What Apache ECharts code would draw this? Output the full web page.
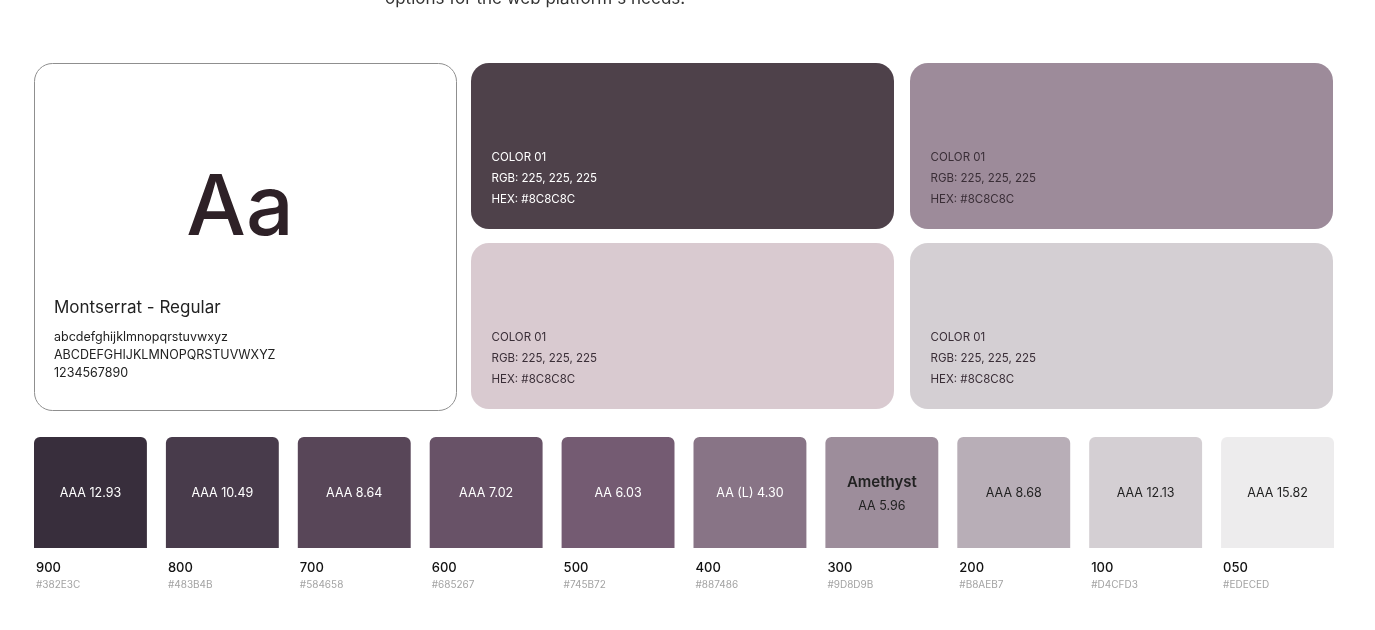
<!DOCTYPE html>
<html>
<head>
<meta charset="utf-8">
<script src="https://cdn.jsdelivr.net/npm/echarts@6.0.0/dist/echarts.min.js"></script>
<style>
  html, body { margin: 0; padding: 0; background: #fff; }
  #main { width: 1375px; height: 630px; }
</style>
</head>
<body>
<div id="main"></div>
<script>
// swatch scale
const shadeNames = ['900', '800', '700', '600', '500', '400', '300', '200', '100', '050'];
const shadeHex = ['#382E3C', '#483B4B', '#584658', '#685267', '#745B72', '#887486', '#9D8D9B', '#B8AEB7', '#D4CFD3', '#EDECED'];
const shadeContrast = ['AAA 12.93', 'AAA 10.49', 'AAA 8.64', 'AAA 7.02', 'AA 6.03', 'AA (L) 4.30', 'AA 5.96', 'AAA 8.68', 'AAA 12.13', 'AAA 15.82'];
const shadeTitle = ['', '', '', '', '', '', 'Amethyst', '', '', ''];

// the four big cards (col, row)
const cardCol = [0, 1, 0, 1];
const cardRow = [0, 0, 1, 1];
const cardFill = ['#4E414A', '#9D8B9A', '#D9CAD0', '#D4CFD3'];
const cardLines = ['COLOR 01', 'RGB: 225, 225, 225', 'HEX: #8C8C8C'];

const font = 'Inter, "Noto Sans", sans-serif';

const chart = echarts.init(document.getElementById('main'));

const option = {
    backgroundColor: '#ffffff',
    animation: false,
    grid: [
        { left: 24.5, width: 1319, top: 437, height: 111 },
        { left: 463, width: 878, top: 56, height: 360 }
    ],
    xAxis: [
        { gridIndex: 0, type: 'category', data: shadeNames, show: false },
        { gridIndex: 1, type: 'category', data: [0, 1], show: false }
    ],
    yAxis: [
        { gridIndex: 0, type: 'value', min: 0, max: 1, show: false },
        { gridIndex: 1, type: 'category', data: [0, 1], inverse: true, show: false }
    ],
    graphic: [
        {
            type: 'text', left: 385, top: -10,
            style: { text: "options for the web platform's needs.", font: '17px ' + font, fill: '#333' }
        },
        {
            type: 'rect', shape: { x: 34.5, y: 63.5, width: 422, height: 347, r: 18 },
            style: { fill: '#fff', stroke: '#8f8f8f', lineWidth: 1 }
        },
        {
            type: 'text', x: 240, y: 210,
            style: { text: 'Aa', font: '500 84px ' + font, fill: '#2E2127', align: 'center', verticalAlign: 'middle' }
        },
        {
            type: 'text', x: 54, y: 308,
            style: { text: 'Montserrat - Regular', font: '17px ' + font, fill: '#222', verticalAlign: 'middle' }
        },
        {
            type: 'text', x: 54, y: 337,
            style: { text: 'abcdefghijklmnopqrstuvwxyz', font: '12.5px ' + font, fill: '#222', verticalAlign: 'middle' }
        },
        {
            type: 'text', x: 54, y: 355,
            style: { text: 'ABCDEFGHIJKLMNOPQRSTUVWXYZ', font: '12.5px ' + font, fill: '#222', verticalAlign: 'middle' }
        },
        {
            type: 'text', x: 54, y: 373,
            style: { text: '1234567890', font: '12.5px ' + font, fill: '#222', verticalAlign: 'middle' }
        }
    ],
    series: [
        {
            type: 'custom',
            xAxisIndex: 1,
            yAxisIndex: 1,
            data: cardCol.map((c, i) => [c, cardRow[i]]),
            renderItem: function (params, api) {
                const i = params.dataIndex;
                const c = api.coord([api.value(0), api.value(1)]);
                const s = api.size([1, 1]);
                const w = s[0] - 16, h = s[1] - 14;
                const x = c[0] - w / 2, y = c[1] - h / 2;
                const txt = i === 0 ? '#ffffff' : '#3A2E37';
                return {
                    type: 'group',
                    children: [
                        { type: 'rect', shape: { x: x, y: y, width: w, height: h, r: 18 }, style: { fill: cardFill[i] } },
                        ...cardLines.map((t, k) => ({
                            type: 'text',
                            style: { x: x + 20.5, y: y + 95 + k * 21, text: t, font: '11.5px ' + font, fill: txt, verticalAlign: 'middle' }
                        }))
                    ]
                };
            }
        },
        {
            type: 'custom',
            xAxisIndex: 0,
            yAxisIndex: 0,
            data: shadeNames.map((n, i) => [i, 1]),
            renderItem: function (params, api) {
                const i = params.dataIndex;
                const top = api.coord([api.value(0), api.value(1)]);
                const bot = api.coord([api.value(0), 0]);
                const w = api.size([1, 0])[0] - 19;
                const x = top[0] - w / 2;
                const h = bot[1] - top[1];
                const cy = top[1] + h / 2 + 1;
                const txt = i < 6 ? '#ffffff' : '#222222';
                const kids = [
                    { type: 'rect', shape: { x: x, y: top[1], width: w, height: h, r: [6, 6, 0, 0] }, style: { fill: shadeHex[i] } }
                ];
                if (shadeTitle[i]) {
                    kids.push({ type: 'text', style: { x: top[0], y: cy - 11, text: shadeTitle[i], font: '600 15px ' + font, fill: txt, align: 'center', verticalAlign: 'middle' } });
                    kids.push({ type: 'text', style: { x: top[0], y: cy + 13, text: shadeContrast[i], font: '12.5px ' + font, fill: txt, align: 'center', verticalAlign: 'middle' } });
                } else {
                    kids.push({ type: 'text', style: { x: top[0], y: cy, text: shadeContrast[i], font: '12.5px ' + font, fill: txt, align: 'center', verticalAlign: 'middle' } });
                }
                kids.push({ type: 'text', style: { x: x + 2, y: bot[1] + 20, text: shadeNames[i], font: '500 13px ' + font, fill: '#111', verticalAlign: 'middle' } });
                kids.push({ type: 'text', style: { x: x + 2, y: bot[1] + 37, text: shadeHex[i], font: '10px ' + font, fill: '#a3a3a3', verticalAlign: 'middle' } });
                return { type: 'group', children: kids };
            }
        }
    ]
};

chart.setOption(option);
</script>
</body>
</html>
